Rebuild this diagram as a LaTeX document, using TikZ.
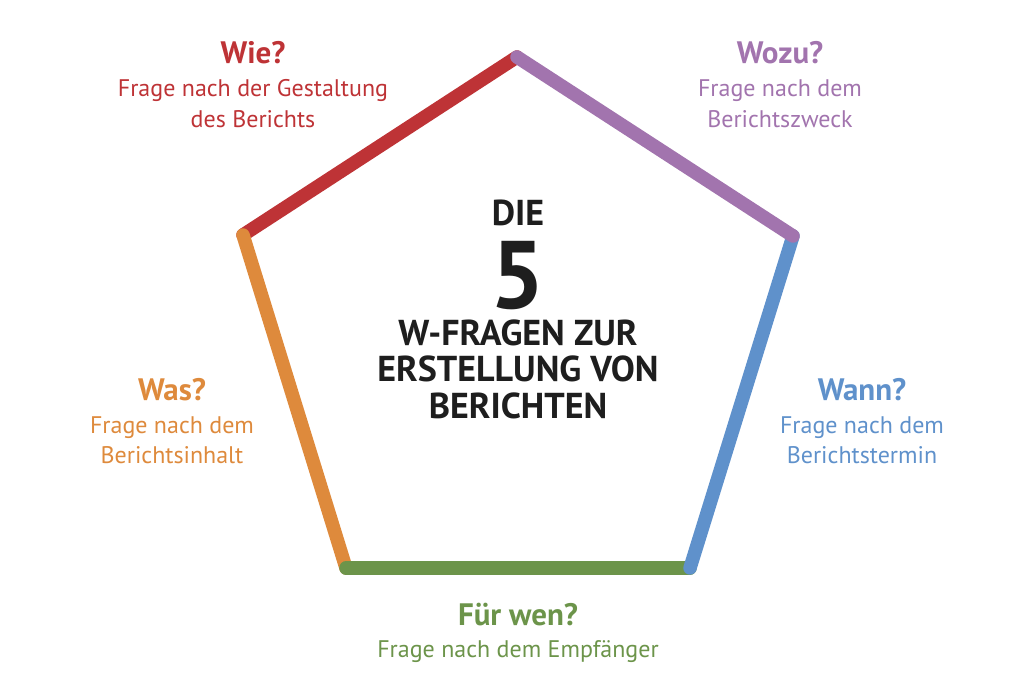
\documentclass[tikz,border=0pt]{standalone}
\usepackage{fontspec}
\setmainfont{PT Sans}
\definecolor{cred}{HTML}{BE3336}
\definecolor{cpurple}{HTML}{A274AE}
\definecolor{cblue}{HTML}{5F91CB}
\definecolor{cgreen}{HTML}{6C944A}
\definecolor{corange}{HTML}{DE8A3C}
\definecolor{cblack}{HTML}{1E1E1E}
\begin{document}
\begin{tikzpicture}[x=1pt,y=-1pt,
  edge/.style={line width=13.5pt,line cap=round},
  head/.style={font=\fontsize{31}{31}\selectfont\bfseries,anchor=base,inner sep=0pt},
  sub/.style={font=\fontsize{24}{24}\selectfont,anchor=base,inner sep=0pt},
  ttl/.style={font=\fontsize{36}{36}\selectfont\bfseries,anchor=base,inner sep=0pt,text=cblack}]
\useasboundingbox (0,0) rectangle (1028,700);
\coordinate (T) at (517,57);
\coordinate (R) at (793,236);
\coordinate (BR) at (690,568);
\coordinate (BL) at (346,568);
\coordinate (L) at (243,235);
\draw[edge,cred] (L) -- (T);
\draw[edge,corange] (L) -- (BL);
\draw[edge,cgreen] (BL) -- (BR);
\draw[edge,cblue] (BR) -- (R);
\draw[edge,cpurple] (R) -- (T);
% Wie
\node[head,text=cred] (wie) at (253,64) {Wie?};
\node[sub,text=cred] (wie1) at (253,97) {Frage nach der Gestaltung};
\node[sub,text=cred] (wie2) at (253,128) {des Berichts};
% Wozu
\node[head,text=cpurple] (wozu) at (780,64) {Wozu?};
\node[sub,text=cpurple] (wozu1) at (780,97) {Frage nach dem};
\node[sub,text=cpurple] (wozu2) at (780,128) {Berichtszweck};
% Was
\node[head,text=corange] (was) at (172,400) {Was?};
\node[sub,text=corange] (was1) at (172,433) {Frage nach dem};
\node[sub,text=corange] (was2) at (172,463) {Berichtsinhalt};
% Wann
\node[head,text=cblue] (wann) at (862,400) {Wann?};
\node[sub,text=cblue] (wann1) at (862,433) {Frage nach dem};
\node[sub,text=cblue] (wann2) at (862,463) {Berichtstermin};
% Fuer wen
\node[head,text=cgreen] (fuer) at (518,625) {Für wen?};
\node[sub,text=cgreen] (fuer1) at (518,657) {Frage nach dem Empfänger};
% center
\node[ttl] (t1) at (518,226) {DIE};
\node[inner sep=0pt,anchor=base,text=cblack,font=\fontsize{96}{96}\selectfont\bfseries] (t2) at (518,309) {5};
\node[ttl] (t3) at (518,346) {W-FRAGEN ZUR};
\node[ttl] (t4) at (518,382) {ERSTELLUNG VON};
\node[ttl] (t5) at (518,418) {BERICHTEN};
\end{tikzpicture}
\end{document}
